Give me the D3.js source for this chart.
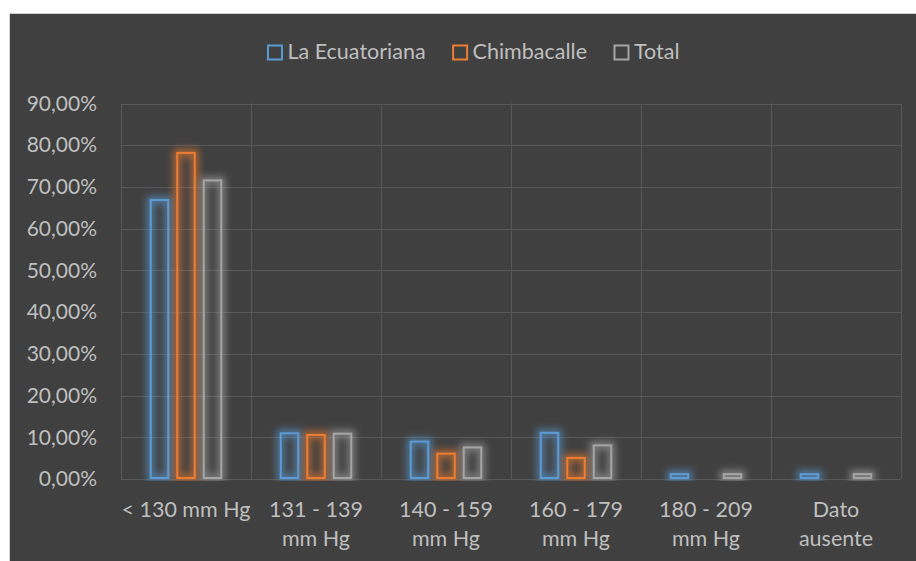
<!DOCTYPE html>
<html>
<head>
<meta charset="utf-8">
<script src="https://cdn.jsdelivr.net/npm/d3@7/dist/d3.min.js"></script>
<style>
  html, body { margin: 0; padding: 0; background: #ffffff; }
  svg { display: block; }
  text { font-family: Lato, "Open Sans", sans-serif; fill: #bfbfbf; }
</style>
</head>
<body>
<svg id="chart" width="916" height="561"></svg>
<script>
// Blood pressure groups (systolic) and share of people per neighbourhood, in %
const categories = ["< 130 mm Hg", "131 - 139\nmm Hg", "140 - 159\nmm Hg", "160 - 179\nmm Hg", "180 - 209\nmm Hg", "Dato\nausente"];
const seriesNames = ["La Ecuatoriana", "Chimbacalle", "Total"];
const laEcuatoriana = [67.1, 11.2, 9.2, 11.3, 1.4, 1.4];
const chimbacalle   = [78.4, 10.8, 6.3, 5.3, 0, 0];
const total         = [71.8, 11.1, 7.8, 8.3, 1.4, 1.4];
const seriesColors  = ["#5b9bd5", "#ed7d31", "#a5a5a5"];
const yTicks = [0, 10, 20, 30, 40, 50, 60, 70, 80, 90];

const seriesValues = [laEcuatoriana, chimbacalle, total];
const rows = categories.map((c, i) => ({
  category: c,
  values: seriesNames.map((s, k) => ({ series: s, value: seriesValues[k][i], color: seriesColors[k] }))
}));

const svg = d3.select("#chart");
const W = 916, H = 561;
const plot = { left: 121, right: 901, top: 103.5, bottom: 479 };
const FS = 21.5;

// chart background
svg.append("rect")
  .attr("x", 9.5).attr("y", 13.5)
  .attr("width", W + 20).attr("height", H + 20)
  .attr("fill", "#404040")
  .attr("stroke", "#d0d0d0").attr("stroke-width", 1);

// soft coloured glow around each bar outline
const defs = svg.append("defs");
seriesColors.forEach((col, k) => {
  const f = defs.append("filter").attr("id", "glow" + k)
    .attr("filterUnits", "userSpaceOnUse")
    .attr("x", -1000).attr("y", -1000).attr("width", 3000).attr("height", 3000);
  f.append("feMorphology").attr("in", "SourceGraphic").attr("operator", "dilate").attr("radius", 2.5).attr("result", "thick");
  f.append("feGaussianBlur").attr("in", "thick").attr("stdDeviation", 3.5).attr("result", "blur");
  f.append("feComponentTransfer").attr("in", "blur").attr("result", "soft")
    .append("feFuncA").attr("type", "linear").attr("slope", 0.6);
  const m = f.append("feMerge");
  m.append("feMergeNode").attr("in", "soft");
  m.append("feMergeNode").attr("in", "SourceGraphic");
});
defs.append("clipPath").attr("id", "plotClip")
  .append("rect").attr("x", plot.left).attr("y", 0)
  .attr("width", plot.right - plot.left).attr("height", plot.bottom + 2);

const x0 = d3.scaleBand().domain(categories).range([plot.left, plot.right]).padding(0);
const x1 = d3.scaleBand().domain(seriesNames).range([-36.25, 36.25]).paddingInner(0.264).paddingOuter(0);
const y = d3.scaleLinear().domain([0, 90]).range([plot.bottom, plot.top]);

const locale = d3.formatLocale({ decimal: ",", thousands: ".", grouping: [3], currency: ["", "€"] });
const fmt = locale.format(".2f");

// gridlines
const grid = svg.append("g").attr("stroke", "#585858").attr("stroke-width", 1);
grid.selectAll("line.h").data(yTicks).join("line").attr("class", "h")
  .attr("x1", plot.left).attr("x2", plot.right)
  .attr("y1", d => Math.round(y(d)) + 0.5).attr("y2", d => Math.round(y(d)) + 0.5);
const bounds = categories.map(c => x0(c)).concat([plot.right]);
grid.selectAll("line.v").data(bounds).join("line").attr("class", "v")
  .attr("x1", d => Math.round(d) + 0.5).attr("x2", d => Math.round(d) + 0.5)
  .attr("y1", plot.top).attr("y2", plot.bottom);

// y axis labels
const yAxis = d3.axisLeft(y).tickValues(yTicks).tickSize(0).tickPadding(24).tickFormat(d => fmt(d) + "%");
const yg = svg.append("g").attr("transform", `translate(${plot.left},0)`).call(yAxis);
yg.select(".domain").remove();
yg.selectAll("text").attr("font-size", 21).style("font-family", "Lato, 'Open Sans', sans-serif").attr("fill", "#bfbfbf");

// bars
const bars = svg.append("g").attr("clip-path", "url(#plotClip)");
const groups = bars.selectAll("g.cat").data(rows).join("g").attr("class", "cat")
  .attr("transform", d => `translate(${x0(d.category) + x0.bandwidth() / 2},0)`);
groups.selectAll("rect").data(d => d.values.filter(v => v.value > 0)).join("rect")
  .attr("x", d => x1(d.series) + 1)
  .attr("y", d => y(d.value) + 1)
  .attr("width", x1.bandwidth() - 2)
  .attr("height", d => Math.max(0, plot.bottom - y(d.value) - 2))
  .attr("fill", "none")
  .attr("stroke", d => d.color)
  .attr("stroke-width", 2)
  .attr("filter", d => `url(#glow${seriesColors.indexOf(d.color)})`);

// x axis labels
const xl = svg.append("g");
rows.forEach(r => {
  const t = xl.append("text")
    .attr("x", x0(r.category) + x0.bandwidth() / 2)
    .attr("y", 517)
    .attr("text-anchor", "middle")
    .attr("font-size", FS);
  r.category.split("\n").forEach((line, i) => {
    t.append("tspan").attr("x", x0(r.category) + x0.bandwidth() / 2)
      .attr("dy", i === 0 ? 0 : 29).text(line);
  });
});

// legend
const legend = svg.append("g");
const items = seriesNames.map((s, k) => {
  const g = legend.append("g");
  g.append("rect").attr("x", 0.5).attr("y", -13.5).attr("width", 14).attr("height", 14)
    .attr("fill", "none").attr("stroke", seriesColors[k]).attr("stroke-width", 2);
  const t = g.append("text").attr("x", 20).attr("y", 0).attr("font-size", FS).text(s);
  return { g, w: 20 + t.node().getComputedTextLength() };
});
const gap = 27;
const totalW = d3.sum(items, d => d.w) + gap * (items.length - 1);
let cx = 473.5 - totalW / 2;
items.forEach(it => {
  it.g.attr("transform", `translate(${cx},59)`);
  cx += it.w + gap;
});
</script>
</body>
</html>
